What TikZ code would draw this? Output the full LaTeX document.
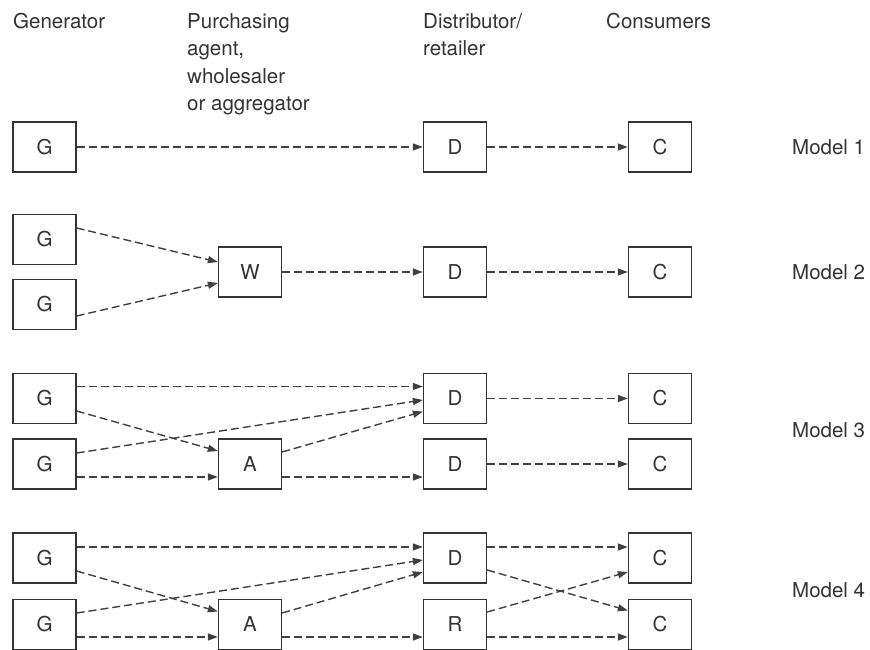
\documentclass[tikz,border=0pt]{standalone}
\usepackage{fontspec}
\setmainfont{TeX Gyre Heros}
\usetikzlibrary{arrows.meta,calc}
\definecolor{ink}{HTML}{333333}
\definecolor{lnk}{HTML}{404040}
\begin{document}
\begin{tikzpicture}[x=1pt,y=-1pt,
  every node/.style={font=\fontsize{20.5}{27.5}\selectfont, text=ink},
  box/.style={draw=ink, line width=1.3pt, minimum width=63pt, minimum height=50pt, inner sep=0pt},
  hdr/.style={anchor=north west, inner sep=0pt, align=left},
  mlab/.style={anchor=west, inner sep=0pt},
  flow/.style={draw=lnk, line width=1.4pt, dash pattern=on 8pt off 4pt, -{Triangle[length=10pt,width=7pt]}}
]
\useasboundingbox (0,0) rectangle (870,650);
% headers
\node[hdr] (h1) at (13,13) {Generator};
\node[hdr] (h2) at (187,13) {Purchasing\\agent,\\wholesaler\\or aggregator};
\node[hdr] (h3) at (423,13) {Distributor/\\retailer};
\node[hdr] (h4) at (606,13) {Consumers};
% model labels
\node[mlab] (m1) at (792,147) {Model 1};
\node[mlab] (m2) at (792,272) {Model 2};
\node[mlab] (m3) at (792,430) {Model 3};
\node[mlab] (m4) at (792,590) {Model 4};
% Model 1
\node[box] (G1) at (44.5,147) {G};
\node[box] (D1) at (455,147) {D};
\node[box] (C1) at (660,147) {C};
\draw[flow] (G1) -- (D1);
\draw[flow] (D1) -- (C1);
% Model 2
\node[box] (G2a) at (44.5,239.5) {G};
\node[box] (G2b) at (44.5,304.5) {G};
\node[box] (W2) at (250,272) {W};
\node[box] (D2) at (455,272) {D};
\node[box] (C2) at (660,272) {C};
\draw[flow] ($(G2a.east)+(0,-11.5)$) -- ($(W2.west)+(0,-10)$);
\draw[flow] ($(G2b.east)+(0,11.5)$) -- ($(W2.west)+(0,11)$);
\draw[flow] (W2) -- (D2);
\draw[flow] (D2) -- (C2);
% Model 3
\node[box] (G3a) at (44.5,398.5) {G};
\node[box] (G3b) at (44.5,464) {G};
\node[box] (A3) at (250,464) {A};
\node[box] (D3a) at (455,398.5) {D};
\node[box] (D3b) at (455,464) {D};
\node[box] (C3a) at (660,398.5) {C};
\node[box] (C3b) at (660,464) {C};
\draw[flow] ($(G3a.east)+(0,-12)$) -- ($(D3a.west)+(0,-12)$);
\draw[flow] ($(G3a.east)+(0,12.5)$) -- ($(A3.west)+(0,-13)$);
\draw[flow] ($(G3b.east)+(0,-11)$) -- ($(D3a.west)+(0,1.5)$);
\draw[flow] ($(A3.east)+(0,-12)$) -- ($(D3a.west)+(0,13)$);
\draw[flow] ($(G3b.east)+(0,13)$) -- ($(A3.west)+(0,13)$);
\draw[flow] ($(A3.east)+(0,13)$) -- ($(D3b.west)+(0,13)$);
\draw[flow] (D3a) -- (C3a);
\draw[flow] (D3b) -- (C3b);
% Model 4
\node[box] (G4a) at (44.5,558) {G};
\node[box] (G4b) at (44.5,624.5) {G};
\node[box] (A4) at (250,624.5) {A};
\node[box] (D4) at (455,558) {D};
\node[box] (R4) at (455,624.5) {R};
\node[box] (C4a) at (660,558) {C};
\node[box] (C4b) at (660,624.5) {C};
\draw[flow] ($(G4a.east)+(0,-11)$) -- ($(D4.west)+(0,-11)$);
\draw[flow] ($(G4a.east)+(0,13)$) -- ($(A4.west)+(0,-13)$);
\draw[flow] ($(G4b.east)+(0,-11.5)$) -- ($(D4.west)+(0,2)$);
\draw[flow] ($(A4.east)+(0,-11.5)$) -- ($(D4.west)+(0,14)$);
\draw[flow] ($(G4b.east)+(0,12.5)$) -- ($(A4.west)+(0,12.5)$);
\draw[flow] ($(A4.east)+(0,12.5)$) -- ($(R4.west)+(0,12.5)$);
\draw[flow] ($(D4.east)+(0,-11)$) -- ($(C4a.west)+(0,-11)$);
\draw[flow] ($(D4.east)+(0,12)$) -- ($(C4b.west)+(0,-14)$);
\draw[flow] ($(R4.east)+(0,-12.5)$) -- ($(C4a.west)+(0,14)$);
\draw[flow] ($(R4.east)+(0,12.5)$) -- ($(C4b.west)+(0,12.5)$);
\end{tikzpicture}
\end{document}
